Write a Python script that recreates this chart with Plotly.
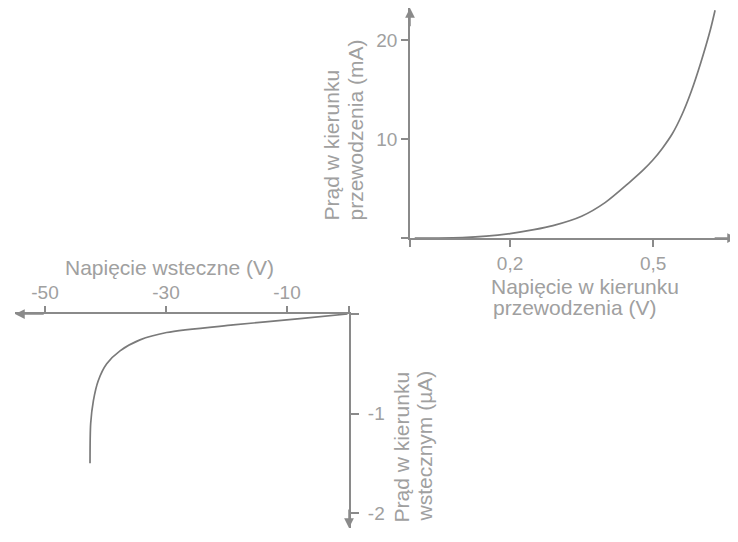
import plotly.graph_objects as go

# ---- data ----
fwd_voltage = [0.0, 0.05, 0.10, 0.15, 0.20, 0.25, 0.29, 0.35, 0.40, 0.45, 0.48, 0.50, 0.52, 0.54, 0.56, 0.58, 0.60, 0.62, 0.63]
fwd_current_mA = [0.0, 0.0, 0.04, 0.18, 0.45, 0.84, 1.25, 2.2, 3.6, 5.6, 6.9, 7.9, 9.1, 10.5, 12.4, 14.8, 17.7, 21.0, 23.0]

rev_voltage = [0.0, -7.85, -18.9, -29.9, -34.3, -37.6, -39.8, -41.2, -42.0, -42.45, -42.56]
rev_current_uA = [0.0, -0.047, -0.11, -0.186, -0.26, -0.37, -0.50, -0.67, -0.87, -1.10, -1.50]

fwd_xticks = [0.2, 0.5]
fwd_xticklabels = ["0,2", "0,5"]
fwd_yticks = [10, 20]
fwd_yticklabels = ["10", "20"]
rev_xticks = [-50, -30, -10]
rev_xticklabels = ["-50", "-30", "-10"]
rev_yticks = [-2, -1]
rev_yticklabels = ["-2", "-1"]

fwd_xtitle = ["Napięcie w kierunku", "przewodzenia (V)"]
fwd_ytitle = ["Prąd w kierunku", "przewodzenia (mA)"]
rev_xtitle = "Napięcie wsteczne (V)"
rev_ytitle = ["Prąd w kierunku", "wstecznym (µA)"]

# ---- layout constants ----
OFF = 8            # page body margin
W, H = 738 - OFF, 542 - OFF
AX = "#8a8a8a"
TXT = "#a0a0a0"
CURVE = "#7a7a7a"
FONT = "Liberation Sans, Arial, sans-serif"
NB = "\u00a0"


def px(xp):
    return (xp - OFF) / W


def py(yp):
    return 1 - (yp - OFF) / H


fx_range = [-0.0099, 0.676]
fy_range = [0, 23.23]
rx_range = [-54.96, 0.25]
ry_range = [-2.15, 0]

fig = go.Figure()
fig.add_trace(go.Scatter(x=fwd_voltage, y=fwd_current_mA, mode="lines",
                         line=dict(color=CURVE, width=1.7, shape="spline", smoothing=0.8),
                         xaxis="x", yaxis="y", hoverinfo="skip", cliponaxis=False))
fig.add_trace(go.Scatter(x=rev_voltage, y=rev_current_uA, mode="lines",
                         line=dict(color=CURVE, width=1.7, shape="spline", smoothing=0.8),
                         xaxis="x2", yaxis="y2", hoverinfo="skip", cliponaxis=False))

tickfont = dict(family=FONT, size=19, color=TXT)
common = dict(showgrid=False, zeroline=False, showline=True, linecolor=AX, linewidth=1.5,
              ticks="outside", tickcolor=AX, tickwidth=1.5, tickfont=tickfont, fixedrange=True)

fig.update_layout(
    width=W, height=H, margin=dict(l=0, r=0, t=0, b=0),
    paper_bgcolor="white", plot_bgcolor="white", showlegend=False,
    xaxis=dict(domain=[px(410), px(737)], range=fx_range, anchor="y",
               tickvals=[fx_range[0]] + fwd_xticks, ticktext=[""] + fwd_xticklabels,
               ticklen=7, **common),
    yaxis=dict(domain=[py(238), py(8)], range=fy_range, anchor="x",
               tickvals=[0] + fwd_yticks, ticktext=[""] + fwd_yticklabels,
               ticklen=7, **common),
    xaxis2=dict(domain=[px(15), px(349)], range=rx_range, anchor="y2", side="top",
                tickvals=rev_xticks + [rx_range[1]], ticktext=rev_xticklabels + [""],
                ticklen=6, **common),
    yaxis2=dict(domain=[py(528), py(314)], range=ry_range, anchor="x2", side="right",
                tickvals=rev_yticks + [0], ticktext=[NB + t for t in rev_yticklabels] + [""],
                ticklen=8, **common),
)

# arrowheads at the axis ends
arrow = dict(showarrow=True, text="", arrowhead=2, arrowsize=1.3, arrowwidth=1.5, arrowcolor=AX)
fig.add_annotation(x=fx_range[1], y=0, ax=fx_range[1] - 0.05, ay=0, xref="x", yref="y",
                   axref="x", ayref="y", **arrow)
fig.add_annotation(x=fx_range[0], y=fy_range[1], ax=fx_range[0], ay=fy_range[1] - 2, xref="x", yref="y",
                   axref="x", ayref="y", **arrow)
fig.add_annotation(x=rx_range[0], y=0, ax=rx_range[0] + 5, ay=0, xref="x2", yref="y2",
                   axref="x2", ayref="y2", **arrow)
fig.add_annotation(x=rx_range[1], y=ry_range[0], ax=rx_range[1], ay=ry_range[0] + 0.2, xref="x2", yref="y2",
                   axref="x2", ayref="y2", **arrow)

tfont = dict(family=FONT, size=21, color=TXT)
# forward x title
fig.add_annotation(text=fwd_xtitle[0], x=px(585), y=py(286), xref="paper", yref="paper",
                   showarrow=False, xanchor="center", yanchor="middle", font=tfont)
fig.add_annotation(text=fwd_xtitle[1], x=px(574), y=py(307), xref="paper", yref="paper",
                   showarrow=False, xanchor="center", yanchor="middle", font=tfont)
# forward y title (rotated, left aligned -> common bottom)
fig.add_annotation(text=fwd_ytitle[0], x=px(331), y=py(223), xref="paper", yref="paper",
                   showarrow=False, xanchor="center", yanchor="bottom", textangle=-90, font=tfont)
fig.add_annotation(text=fwd_ytitle[1], x=px(355), y=py(223), xref="paper", yref="paper",
                   showarrow=False, xanchor="center", yanchor="bottom", textangle=-90, font=tfont)
# reverse x title
fig.add_annotation(text=rev_xtitle, x=px(169), y=py(267), xref="paper", yref="paper",
                   showarrow=False, xanchor="center", yanchor="middle", font=tfont)
# reverse y title
fig.add_annotation(text=rev_ytitle[0], x=px(401), y=py(524), xref="paper", yref="paper",
                   showarrow=False, xanchor="center", yanchor="bottom", textangle=-90, font=tfont)
fig.add_annotation(text=rev_ytitle[1], x=px(424), y=py(524), xref="paper", yref="paper",
                   showarrow=False, xanchor="center", yanchor="bottom", textangle=-90, font=tfont)

fig.write_html("out.html", config={"displayModeBar": False})
